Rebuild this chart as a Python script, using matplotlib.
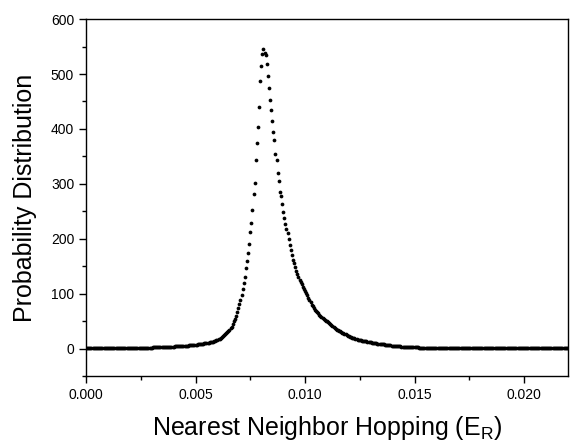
import numpy as np
import matplotlib
matplotlib.use('Agg')
import matplotlib.pyplot as plt
from matplotlib.ticker import MultipleLocator, FormatStrFormatter

# Hopping values are sampled on a regular grid (E_R)
hop_step = 0.00005

# Probability distribution
# left tail (grid points 0..131)
tail_left = [
    0.3, 0.3, 0.3, 0.3, 0.3, 0.3, 0.35, 0.35, 0.35, 0.4,
    0.4, 0.4, 0.45, 0.45, 0.5, 0.5, 0.5, 0.55, 0.55, 0.6,
    0.6, 0.6, 0.65, 0.65, 0.7, 0.7, 0.7, 0.75, 0.75, 0.8,
    0.8, 0.8, 0.85, 0.9, 0.9, 0.95, 0.95, 1.0, 1.0, 1.05,
    1.1, 1.1, 1.15, 1.2, 1.25, 1.3, 1.3, 1.35, 1.4, 1.45,
    1.5, 1.55, 1.6, 1.6, 1.65, 1.7, 1.75, 1.8, 1.85, 1.9,
    2.0, 2.05, 2.1, 2.2, 2.25, 2.3, 2.4, 2.45, 2.55, 2.6,
    2.7, 2.8, 2.9, 3.0, 3.1, 3.2, 3.3, 3.4, 3.55, 3.7,
    3.8, 3.9, 4.0, 4.1, 4.2, 4.3, 4.4, 4.6, 4.7, 4.8,
    5.0, 5.2, 5.4, 5.6, 5.8, 6.0, 6.2, 6.4, 6.6, 6.8,
    7.0, 7.3, 7.6, 7.9, 8.2, 8.5, 8.8, 9.1, 9.4, 9.7,
    10.0, 10.4, 10.8, 11.2, 11.6, 12.0, 12.7, 13.4, 14.2, 15.0,
    16.0, 17.0, 18.0, 19.5, 21.0, 22.5, 24.5, 26.5, 28.5, 30.5,
    32.5, 34.5,
]

# peak (grid points 132..230)
peak = [
    37, 40, 45, 50, 54, 60, 66, 74, 81, 89,
    98, 108, 119, 131, 146, 159, 174, 190, 212, 228,
    252, 281, 302, 343, 375, 404, 440, 487, 514, 536,
    545, 538, 534, 519, 497, 474, 452, 435, 414, 395,
    380, 354, 344, 320, 305, 285, 277, 263, 249, 238,
    227, 218, 210, 200, 189, 180, 170, 161, 155, 148,
    141, 135, 130, 125, 121, 117, 113, 109, 105, 101,
    97, 92, 88, 84, 80, 77, 74, 71, 68, 66,
    64, 62, 60, 58, 56, 54, 52.5, 51, 50, 48,
    46, 45, 43, 41, 40, 38, 36, 34.5, 33.5,
]

# right tail (grid points 231..440)
tail_right = [
    32.5, 31.5, 30.5, 29, 28, 27, 26, 24.5, 23.5, 22.5,
    22, 21, 20, 19.5, 18.5, 18, 17, 16.5, 16, 15.5,
    15, 14.7, 14.5, 14, 13.5, 13, 12.5, 12, 11.6, 11.2,
    10.8, 10.4, 10, 9.7, 9.4, 9.2, 9, 8.8, 8.6, 8.2,
    7.9, 7.6, 7.3, 7, 6.7, 6.4, 6.1, 5.8, 5.6, 5.3,
    5.1, 4.9, 4.6, 4.3, 4.2, 4.1, 4.0, 3.8, 3.7, 3.6,
    3.4, 3.3, 3.2, 3.0, 2.9, 2.8, 2.7, 2.6, 2.5, 2.4,
    2.3, 2.2, 2.1, 2.0, 1.95, 1.9, 1.8, 1.7, 1.65, 1.6,
    1.5, 1.45, 1.4, 1.35, 1.3, 1.25, 1.2, 1.2, 1.15, 1.1,
    1.1, 1.08, 1.06, 1.04, 1.02, 1.0, 1.0, 0.98, 0.96, 0.95,
    0.94, 0.93, 0.92, 0.9, 0.9, 0.89, 0.88, 0.87, 0.86, 0.85,
    0.84, 0.83, 0.82, 0.81, 0.8, 0.8, 0.79, 0.78, 0.77, 0.76,
    0.75, 0.75, 0.74, 0.73, 0.72, 0.72, 0.71, 0.7, 0.7, 0.69,
    0.68, 0.68, 0.67, 0.66, 0.66, 0.65, 0.64, 0.64, 0.63, 0.63,
    0.62, 0.62, 0.61, 0.6, 0.6, 0.59, 0.59, 0.58, 0.58, 0.57,
    0.57, 0.56, 0.56, 0.55, 0.55, 0.54, 0.54, 0.53, 0.53, 0.52,
    0.52, 0.52, 0.51, 0.51, 0.5, 0.5, 0.5, 0.49, 0.49, 0.48,
    0.48, 0.48, 0.47, 0.47, 0.47, 0.46, 0.46, 0.46, 0.45, 0.45,
    0.45, 0.44, 0.44, 0.44, 0.43, 0.43, 0.43, 0.43, 0.42, 0.42,
    0.42, 0.42, 0.41, 0.41, 0.41, 0.41, 0.4, 0.4, 0.4, 0.4,
    0.4, 0.39, 0.39, 0.39, 0.39, 0.38, 0.38, 0.38, 0.38, 0.38,
]

prob = np.array(tail_left + peak + tail_right)
hop = np.arange(len(prob)) * hop_step

plt.rcParams['font.family'] = ['Liberation Sans', 'DejaVu Sans']
plt.rcParams['mathtext.fontset'] = 'custom'
plt.rcParams['mathtext.rm'] = 'Liberation Sans'

fig = plt.figure(figsize=(5.71, 4.44), dpi=100)
ax = fig.add_axes([0.1506, 0.153, 0.844, 0.804])

ax.plot(hop, prob, 'o', color='black', markersize=2.7, markeredgewidth=0)

ax.set_xlim(0, 0.022)
ax.set_ylim(-50, 600)
ax.xaxis.set_major_locator(MultipleLocator(0.005))
ax.xaxis.set_minor_locator(MultipleLocator(0.0025))
ax.xaxis.set_major_formatter(FormatStrFormatter('%.3f'))
ax.yaxis.set_major_locator(MultipleLocator(100))
ax.yaxis.set_minor_locator(MultipleLocator(50))

ax.tick_params(which='major', direction='out', length=5, width=1, labelsize=10)
ax.tick_params(which='minor', direction='out', length=3, width=1)
for s in ax.spines.values():
    s.set_linewidth(1.0)

ax.set_xlabel(r'Nearest Neighbor Hopping (E$_{\mathrm{R}}$)', fontsize=18, labelpad=9)
ax.set_ylabel('Probability Distribution', fontsize=18, labelpad=10)

fig.savefig('out.png', dpi=100)
